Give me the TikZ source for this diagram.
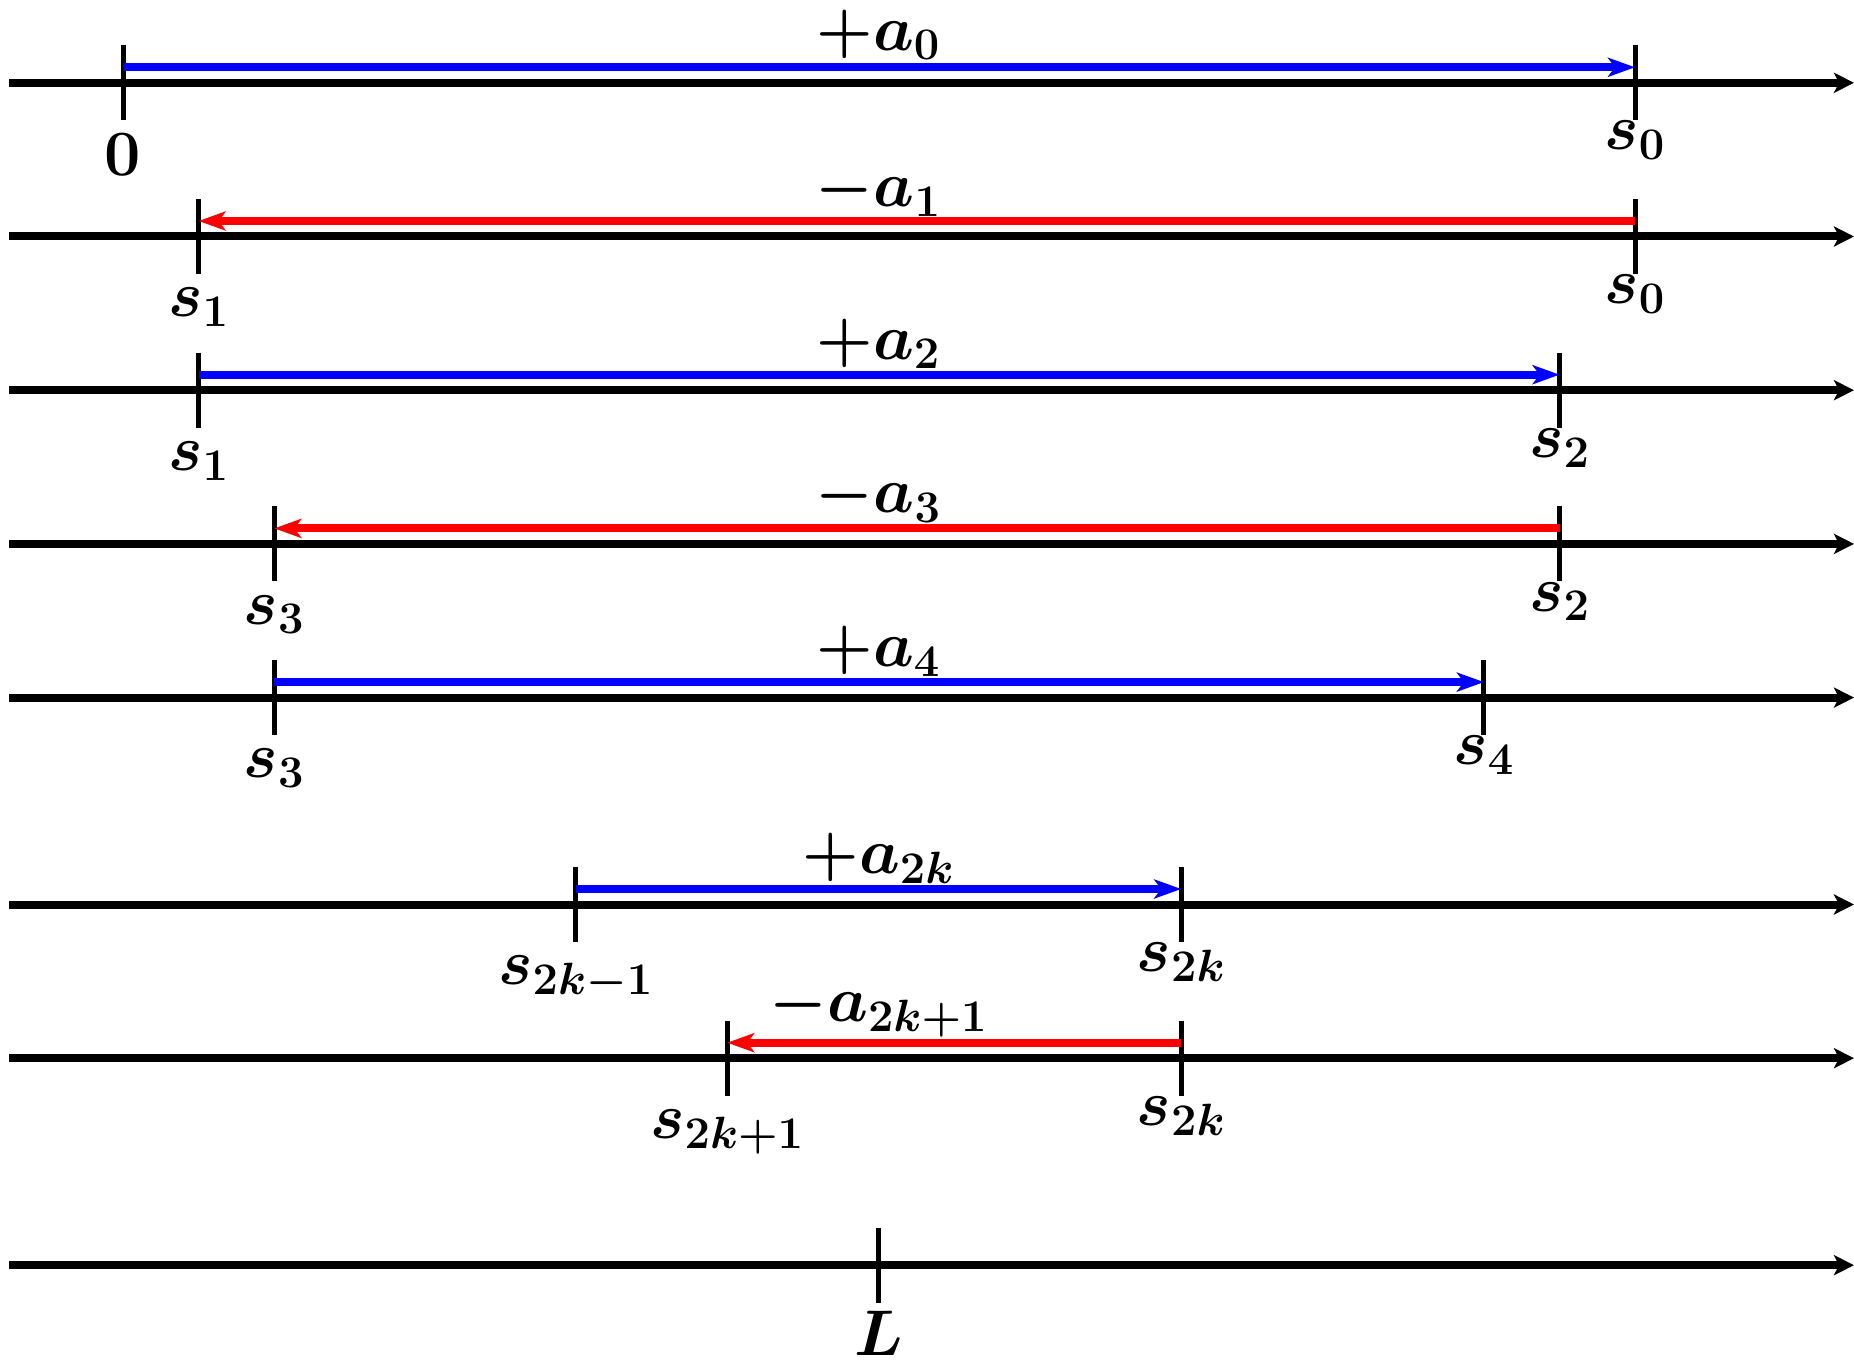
\RequirePackage{fix-cm}
\documentclass[tikz,border=0pt]{standalone}
\usepackage{amsmath}
\usetikzlibrary{arrows.meta,calc}
\tikzset{
  axisline/.style={line width=4pt,-{Stealth[length=10pt,width=10pt,inset=2.5pt]}},
  tickmark/.style={line width=2.5pt},
  posarrow/.style={draw={rgb,255:red,0;green,0;blue,255},line width=4pt,-{Stealth[length=13.5pt,width=9.5pt,inset=3.5pt]}},
  negarrow/.style={draw={rgb,255:red,255;green,0;blue,0},line width=4pt,-{Stealth[length=13.5pt,width=9.5pt,inset=3.5pt]}},
  lbl/.style={inner sep=0pt,font=\fontsize{32.3}{38}\selectfont\boldmath},
  leftlbl/.style={lbl,anchor=north},
  rightlbl/.style={lbl,anchor=north},
  toplbl/.style={lbl,anchor=base}
}
\begin{document}
\begin{tikzpicture}[x=0.5pt,y=-0.5pt]
\useasboundingbox (0,0) rectangle (1854,1364);
% rows: y values
\def\ya{82.8}\def\yb{236.5}\def\yc{390.2}\def\yd{543.9}
\def\ye{697.6}\def\yf{904.5}\def\yg{1058.2}\def\yh{1265.2}
\def\xm{878.5}
% axes
\foreach \r/\y in {1/\ya,2/\yb,3/\yc,4/\yd,5/\ye,6/\yf,7/\yg,8/\yh}{
  \coordinate (axs\r) at (9.3,\y);
  \coordinate (axe\r) at (1854,\y);
  \draw[axisline] (axs\r) -- (axe\r);
}
% ticks: name/x/y
\foreach \n/\x/\y in {t1a/123/\ya,t1b/1635/\ya,t2a/198.6/\yb,t2b/1635/\yb,
  t3a/198.6/\yc,t3b/1559.6/\yc,t4a/274.3/\yd,t4b/1559.6/\yd,
  t5a/274.3/\ye,t5b/1483.9/\ye,t6a/575.8/\yf,t6b/1181.2/\yf,
  t7a/727.2/\yg,t7b/1181.2/\yg,t8a/878.5/\yh}{
  \coordinate (\n) at (\x,\y);
  \coordinate (\n-top) at (\x,\y-37.5);
  \coordinate (\n-bot) at (\x,\y+37.5);
  \coordinate (\n-arr) at (\x,\y-15.5);
  \draw[tickmark] (\n-top) -- (\n-bot);
}
% coloured arrows
\draw[posarrow] (t1a-arr) -- (t1b-arr);
\draw[negarrow] (t2b-arr) -- (t2a-arr);
\draw[posarrow] (t3a-arr) -- (t3b-arr);
\draw[negarrow] (t4b-arr) -- (t4a-arr);
\draw[posarrow] (t5a-arr) -- (t5b-arr);
\draw[posarrow] (t6a-arr) -- (t6b-arr);
\draw[negarrow] (t7b-arr) -- (t7a-arr);
% labels above
\node[toplbl] (la0) at (\xm,\ya-32.5) {$+a_0$};
\node[toplbl] (la1) at (\xm,\yb-29.8) {$-a_1$};
\node[toplbl] (la2) at (\xm,\yc-31) {$+a_2$};
\node[toplbl] (la3) at (\xm,\yd-31) {$-a_3$};
\node[toplbl] (la4) at (\xm,\ye-31) {$+a_4$};
\node[toplbl] (la2k) at (\xm,\yf-31) {$+a_{2k}$};
\node[toplbl] (la2k1) at (\xm,\yg-36.5) {$-a_{2k+1}$};
% labels below
\node[leftlbl] (l1a) at (123,\ya+51) {$0$};
\node[rightlbl] (l1b) at (1635,\ya+38) {$s_0$};
\node[leftlbl] (l2a) at (198.6,\yb+51) {$s_1$};
\node[rightlbl] (l2b) at (1635,\yb+38) {$s_0$};
\node[leftlbl] (l3a) at (198.6,\yc+51) {$s_1$};
\node[rightlbl] (l3b) at (1559.6,\yc+38) {$s_2$};
\node[leftlbl] (l4a) at (274.3,\yd+51) {$s_3$};
\node[rightlbl] (l4b) at (1559.6,\yd+38) {$s_2$};
\node[leftlbl] (l5a) at (274.3,\ye+51) {$s_3$};
\node[rightlbl] (l5b) at (1483.9,\ye+38) {$s_4$};
\node[leftlbl] (l6a) at (575.8,\yf+51) {$s_{2k-1}$};
\node[rightlbl] (l6b) at (1181.2,\yf+38) {$s_{2k}$};
\node[leftlbl] (l7a) at (727.2,\yg+51) {$s_{2k+1}$};
\node[rightlbl] (l7b) at (1181.2,\yg+38) {$s_{2k}$};
\node[leftlbl] (l8a) at (878.5,\yh+46) {$L$};
\end{tikzpicture}
\end{document}
